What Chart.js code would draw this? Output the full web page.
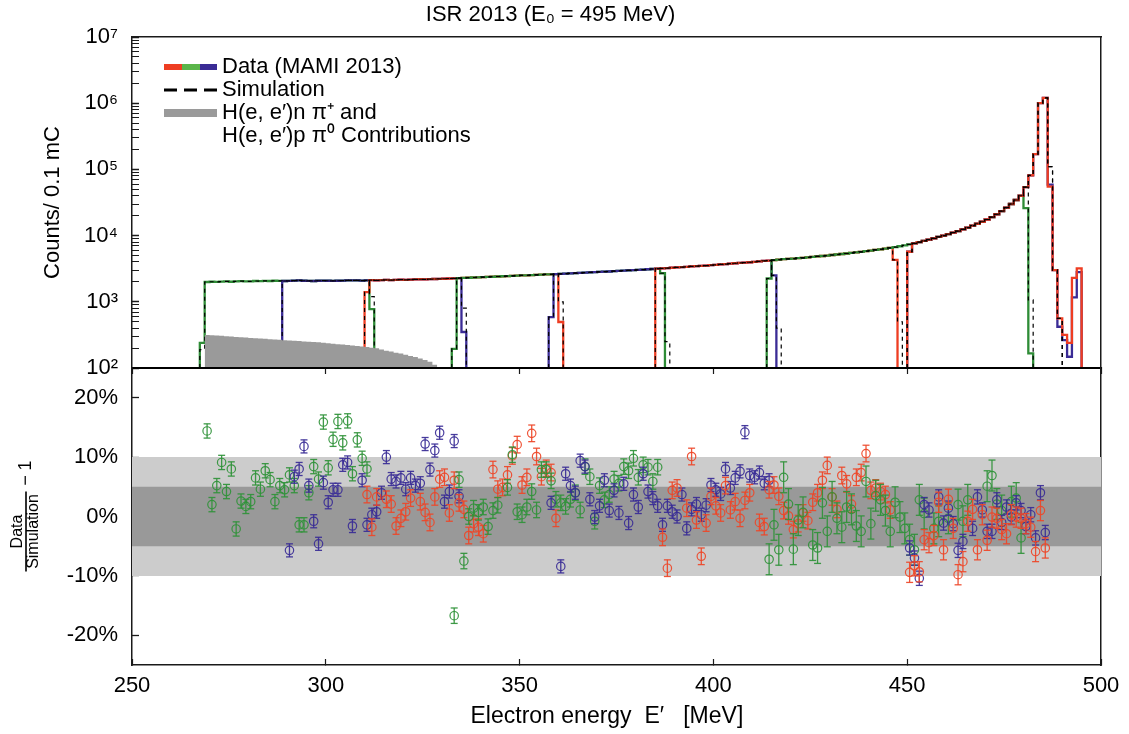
<!DOCTYPE html>
<html>
<head>
<meta charset="utf-8">
<title>ISR 2013</title>
<script src="https://cdn.jsdelivr.net/npm/chart.js@4.4.1/dist/chart.umd.min.js"></script>
<style>
  html, body { margin: 0; padding: 0; background: #ffffff; }
  #wrap { position: relative; width: 1129px; height: 734px; overflow: hidden; background: #fff; }
  canvas { position: absolute; left: 0; }
  #cTop { top: 0; }
  #cBot { top: 350px; }
</style>
</head>
<body>
<div id="wrap">
  <canvas id="cTop" width="1129" height="392"></canvas>
  <canvas id="cBot" width="1129" height="384"></canvas>
</div>
<script>
const FONT = '"Liberation Sans", Arial, Helvetica, sans-serif';
Chart.defaults.font.family = FONT;
Chart.defaults.color = '#000';

// ---------- axes / binning ----------
const E_MIN = 250, E_MAX = 500, BIN_WIDTH = 1.25;
const X_TICKS = [250, 300, 350, 400, 450, 500];
const COUNT_MIN = 1e2, COUNT_MAX = 1e7;
const LOG_TICKS = [1e2, 1e3, 1e4, 1e5, 1e6, 1e7];
const LOG_TICK_LABELS = ['10²', '10³', '10⁴', '10⁵', '10⁶', '10⁷'];
const LOG_MINOR = [2, 3, 4, 5, 6, 7, 8, 9];
const RATIO_MIN = -25, RATIO_MAX = 25;
const RATIO_TICKS = [-20, -10, 0, 10, 20];
const RATIO_TICK_LABELS = ['-20%', '-10%', '0%', '10%', '20%'];
const BAND_OUTER = [-10, 10];
const BAND_INNER = [-5, 5];

// ---------- spectrum (counts per 1.25 MeV bin, bins 15..185) ----------
const SPEC_FIRST_BIN = 15;
const spectrumCounts = [
  1990, 2010, 2000, 2020, 2030, 2010, 2040, 2050, 2030, 2040, 2060, 2050, 2070, 2060, 2080, 2070, 2060, 2070, 2090, 2100, 2080, 2070, 2060, 2080, 2090,
  2080, 2070, 2080, 2090, 2100, 2110, 2100, 2090, 2110, 2120, 2110, 2130, 2140, 2130, 2150, 2160, 2150, 2170, 2180, 2190, 2180, 2200, 2210, 2220, 2230, 2250,
  2260, 2280, 2300, 2310, 2330, 2340, 2360, 2380, 2390, 2410,
  2430, 2450, 2460, 2480, 2500, 2510, 2530, 2550, 2570, 2590,
  2600, 2620, 2640, 2660, 2690, 2710, 2730, 2760, 2780, 2800,
  2830, 2850, 2870, 2900, 2930, 2950, 2980, 3010, 3040, 3070,
  3100, 3130, 3160, 3200, 3230, 3270, 3300, 3340, 3380, 3420,
  3450, 3490, 3530, 3580, 3620, 3670, 3720, 3770, 3820, 3880,
  3900, 3960, 4020, 4080, 4140, 4200, 4270, 4340, 4400, 4450,
  4500, 4560, 4620, 4690, 4760, 4840, 4920, 5000, 5090, 5180,
  5270, 5370, 5470, 5580, 5690, 5810, 5940, 6070, 6210, 6360,
  6520, 6700, 6900, 7120, 7370, 7650, 7960, 8300, 8680, 9100,
  9550, 10000, 10500, 11100, 11700, 12400, 13200, 14100, 15100, 16200,
  17500, 19000, 21000, 23500, 26500, 30000, 34500, 40000, 54000, 81000
];
// elastic peak region, bins 186..195
const tailRed  = [170000, 1000000, 1200000, 55000, 3000, 560, 316, 240, 2300, 3200];
const tailBlue = [170000, 1000000, 1200000, 59000, 3000, 420, 263, 148, 1170, 2800];
const tailSim  = [170000, 1000000, 1200000, 110000, 3000, 560];

// pion-production contribution, bins 15..62
const PION_FIRST_BIN = 15;
const pionCounts = [315, 312, 309, 306, 303, 298, 295, 292, 289, 285, 282, 279, 276, 272, 269, 266, 263, 260, 258, 255,
  252, 250, 248, 244, 240, 236, 233, 229, 226, 223, 219, 215, 211, 207, 203, 198, 190, 183, 177, 170,
  165, 158, 152, 146, 139, 132, 124, 112];

// ---------- spectrometer settings ----------
const settingColor    = ['green', 'blue', 'red', 'green', 'blue', 'red', 'green', 'blue', 'red'];
const settingFirstBin = [14, 31, 48, 66, 86, 108, 131, 160, 160];
const settingLastBin  = [49, 68, 88, 109, 132, 157, 185, 195, 195];
const dataEdgeLow  = [[240], [], [1400], [195], [585], [], [2250], [5700], [5700]];
const dataEdgeHigh = [[776], [350], [495], [2700], [2500], [4300], [26000, 166], tailBlue, tailRed];
const simLastBin   = [49, 68, 88, 110, 133, 158, 185, 191, 191];
const simEdgeLow   = [[190], [], [1400], [195], [585], [], [2250], [5700], [5700]];
const simEdgeHigh  = [[1200], [800], [1000], [2700, 250], [2500, 400], [4300, 500], [1070], tailSim, tailSim];

// ---------- ratio Data/Simulation - 1 (percent), per setting ----------
const ratioFirstBin = [15, 32, 48, 66, 86, 109, 131, 160, 160];
const ratioG1 = [14.4, 2.0, 5.2, 9.1, 4.2, 8.0, -2.1, 2.6, 1.7, 2.5, 6.5, 4.6, 7.7, 6.2, 2.5, 5.2, 4.5, 7.0, 5.2, -1.4,
  -1.4, 4.0, 8.4, 6.3, 15.9, 8.2, 13.0, 16.0, 12.4, 16.1, 7.2, 12.9, 9.8, 8.0];
const ratioB1 = [-5.7, 6.7, 8.0, 11.8, 5.2, -0.8, -4.6, 5.7, 2.4, 4.5, 4.5, 8.7, 9.1, -1.6, null, 6.1, -1.4, 0.3, 0.8, 4.0,
  10.0, 6.3, 5.9, 6.5, 4.6, 6.5, 5.2, 5.6, 12.2, 7.9, 11.1, 14.1, 2.5, 4.2, 12.7, 3.4];
const ratioR1 = [3.7, -1.8, 3.3, null, 2.9, 2.1, -1.6, -0.3, 0.8, 3.1, null, 2.5, 0.7, -1.0, 3.3, 6.3, 6.6, 0.6, 6.1, 2.3,
  1.2, -3.2, -1.2, -1.8, -2.9, null, 7.9, 4.6, 4.9, 7.0, 10.2, 12.1, 5.3, 6.6, 14.0, 10.1, 6.7, 8.1, 7.4, -0.3];
const ratioG2 = [-16.7, 6.2, -7.5, 0.0, 1.4, 0.7, 1.6, -1.7, 1.0, 1.9, null, 4.9, 10.4, 0.8, 0.3, 1.6, 4.2, 1.1, 7.9, 7.9,
  6.0, 2.9, 2.3, 1.7, 2.9, 4.0, 1.1, 8.4, 6.7, -0.8, 5.2, 2.8, 3.7, 6.3, 5.6, 8.4, 7.7, 9.8, 6.6, 8.7, 8.3, 5.9, 8.3];
const ratioB2 = [2.3, null, -8.4, 7.2, 5.2, 4.0, 9.4, 8.4, 2.9, -0.1, 1.8, 6.1, 1.0, 4.4, 0.6, 5.5, -1.1, 3.7, 1.6, 7.2,
  4.2, 3.1, 1.8, -1.4, 1.8, 0.8, 0.0, 3.7, -2.0, 1.2, 2.1, 0.3, 1.9, 5.3, 4.5, 3.8, 8.0, 4.8, 6.5, 7.6,
  14.2, 6.9, 6.6, 7.4, 5.6, 6.1];
const ratioR2 = [-3.5, -8.7, 4.4, 4.8, null, 1.4, 10.1, -0.6, -6.7, -1.1, 3.4, 1.8, 0.6, 5.2, 1.1, 2.5, -0.3, 2.7, 4.0, null,
  -1.0, -1.7, 4.5, 5.3, 3.4, 1.0, 0.1, -2.2, -1.2, 0.6, -0.7, 2.4, 4.0, 6.1, 8.6, 3.3, 1.2, 6.9, 5.5, 2.1,
  6.6, 7.4, 10.6, 4.4, 4.8, 4.2, 3.7, 1.1];
const ratioG3 = [-7.2, -1.4, -5.6, 6.6, 2.1, -5.5, -0.6, 0.7, null, -4.8, -5.3, 2.3, -2.5, 3.3, -0.3, -1.8, 1.6, 1.2, -1.6, -2.5,
  5.9, -1.2, 3.5, 2.8, 1.0, -2.5, 2.4, -0.1, -2.0, -3.9, -5.6, 2.8, 0.5, null, -2.0, -0.8, null, -0.3, null, 2.0,
  -0.8, 2.8, null, null, null, 5.1, 6.9, 2.1, 1.0, null, 2.5, 3.1, -3.6];
const ratioB3 = [-5.3, -7.0, -10.4, 2.0, 1.1, null, 3.3, -1.1, 1.4, -1.2, -5.7, -4.2, null, -2.0, 3.3, 1.1, -2.5, -2.5, 2.8, -1.0,
  1.6, -0.1, 2.3, 1.0, -1.7, 0.3, -3.6, 4.0, -2.7];
const ratioR3 = [-9.4, -8.3, -9.3, -3.9, -4.4, -3.2, 2.4, -5.6, 2.9, -2.0, -9.8, -7.6, -0.8, 1.2, -5.6, 0.3, -4.0, -0.1, -0.3, -2.2,
  -2.9, 0.3, -0.1, -0.3, -1.2, -1.8, -5.9, 1.0, -5.3];
const ratioSeries = [ratioG1, ratioB1, ratioR1, ratioG2, ratioB2, ratioR2, ratioG3, ratioB3, ratioR3];
const ratioErr = [1.2, 1.1, 1.4, 1.3, 1.1, 1.4, 2.6, 1.2, 1.7];

// ---------- styling ----------
const LINE_COLORS  = { red: '#ee3d22', green: '#2e8c36', blue: '#3a2b95' };
const POINT_COLORS = { red: 'rgba(238,70,40,0.92)', green: 'rgba(48,146,58,0.92)', blue: 'rgba(58,44,150,0.92)' };
const LEGEND_TEXT = ['Data (MAMI 2013)', 'Simulation', ['H(e, e′)n π⁺ and', 'H(e, e′)p π⁰ Contributions']];

// ---------- helpers ----------
const binEdge = b => E_MIN + b * BIN_WIDTH;
const binCenter = b => E_MIN + (b + 0.5) * BIN_WIDTH;

function histCounts(first, last, lo, hi) {
  const out = [];
  for (let b = first; b <= last; b++) {
    const i = b - first, j = last - b;
    if (i < lo.length) out.push(lo[i]);
    else if (j < hi.length) out.push(hi[hi.length - 1 - j]);
    else out.push(spectrumCounts[b - SPEC_FIRST_BIN]);
  }
  return out;
}
function histPoints(first, counts) {
  const pts = [{ x: binEdge(first), y: COUNT_MIN }];
  counts.forEach((c, i) => pts.push({ x: binEdge(first + i), y: c }));
  const end = binEdge(first + counts.length);
  pts.push({ x: end, y: counts[counts.length - 1] });
  pts.push({ x: end, y: COUNT_MIN });
  return pts;
}
function symbolCanvas(draw) {
  const c = document.createElement('canvas');
  c.width = 90; c.height = 8;
  draw(c.getContext('2d'));
  return c;
}
const legendSymbols = [
  symbolCanvas(g => {
    g.fillStyle = LINE_COLORS.red;   g.fillRect(37, 1, 18, 6);
    g.fillStyle = '#5ab54a';         g.fillRect(55, 1, 18, 6);
    g.fillStyle = LINE_COLORS.blue;  g.fillRect(73, 1, 17, 6);
  }),
  symbolCanvas(g => {
    g.strokeStyle = '#000'; g.lineWidth = 3; g.setLineDash([13, 7]);
    g.beginPath(); g.moveTo(37, 4); g.lineTo(90, 4); g.stroke();
  }),
  symbolCanvas(g => { g.fillStyle = '#9a9a9a'; g.fillRect(37, 0, 53, 8); })
];
// axes must not reserve room for overhanging labels: the frame is fixed by layout padding
function fixBox(w, h) {
  return s => {
    if (w !== null) s.width = w;
    if (h !== null) s.height = h;
    s.paddingTop = 0; s.paddingBottom = 0; s.paddingLeft = 0; s.paddingRight = 0;
  };
}

// ---------- top panel datasets ----------
const topDatasets = [];
settingColor.forEach((col, s) => {
  const counts = histCounts(settingFirstBin[s], settingLastBin[s], dataEdgeLow[s], dataEdgeHigh[s]);
  topDatasets.push({
    data: histPoints(settingFirstBin[s], counts), borderColor: LINE_COLORS[col], borderWidth: 2.3,
    stepped: true, pointRadius: 0, fill: false, order: 20 - s
  });
});
settingColor.forEach((col, s) => {
  const counts = histCounts(settingFirstBin[s], simLastBin[s], simEdgeLow[s], simEdgeHigh[s]);
  topDatasets.push({
    data: histPoints(settingFirstBin[s], counts), borderColor: '#000', borderWidth: 1.2, borderDash: [4, 4],
    stepped: true, pointRadius: 0, fill: false, order: 2
  });
});
topDatasets.push({
  data: histPoints(PION_FIRST_BIN, pionCounts), borderColor: '#9a9a9a', borderWidth: 0,
  backgroundColor: '#9a9a9a', stepped: true, pointRadius: 0, fill: 'start', order: 0
});

const frameBorder = { display: true, color: '#1a1a1a', width: 1.5 };
const logTickValues = [];
LOG_TICKS.forEach((v, k) => {
  logTickValues.push(v);
  if (k < LOG_TICKS.length - 1) LOG_MINOR.forEach(m => logTickValues.push(v * m));
});

new Chart(document.getElementById('cTop'), {
  type: 'line',
  data: { datasets: topDatasets },
  options: {
    responsive: false, animation: false, devicePixelRatio: 1, events: [],
    layout: { padding: { left: 0, right: 28, top: 0, bottom: 24 } },
    plugins: {
      tooltip: { enabled: false },
      title: {
        display: true, text: 'ISR 2013 (E₀ = 495 MeV)', color: '#000',
        font: { size: 22, weight: 'normal' }, padding: { top: 2, bottom: 8.6 }
      },
      legend: {
        display: true, position: 'chartArea', align: 'start',
        title: { display: true, text: '', font: { size: 10, lineHeight: 1 }, padding: { top: 0, bottom: 45 } },
        labels: {
          usePointStyle: true, pointStyleWidth: 78, padding: 1, color: '#000',
          font: { size: 22, lineHeight: 1.05 },
          generateLabels: () => LEGEND_TEXT.map((t, i) => ({
            text: t, pointStyle: legendSymbols[i], fillStyle: 'rgba(0,0,0,0)',
            strokeStyle: 'rgba(0,0,0,0)', lineWidth: 0, hidden: false, fontColor: '#000', datasetIndex: i
          }))
        }
      }
    },
    scales: {
      x: {
        type: 'linear', min: E_MIN, max: E_MAX, position: 'bottom',
        ticks: { display: false }, grid: { display: false },
        border: { display: true, color: '#000', width: 2 },
        afterFit: fixBox(null, 0)
      },
      xTop: {
        type: 'linear', min: E_MIN, max: E_MAX, position: 'top',
        ticks: { display: false }, grid: { display: false }, border: frameBorder,
        afterFit: fixBox(null, 0)
      },
      y: {
        type: 'logarithmic', min: COUNT_MIN, max: COUNT_MAX, position: 'left',
        afterBuildTicks: s => { s.ticks = logTickValues.map(v => ({ value: v })); },
        ticks: {
          callback: v => { const i = LOG_TICKS.indexOf(v); return i >= 0 ? LOG_TICK_LABELS[i] : ''; },
          font: { size: 22 }, padding: 21, color: '#000', autoSkip: false
        },
        grid: {
          display: true, drawOnChartArea: false, drawTicks: true, tickLength: -7, tickColor: '#1a1a1a',
          tickWidth: c => (c.tick && LOG_TICKS.includes(c.tick.value)) ? 1.5 : 1
        },
        border: frameBorder,
        title: { display: true, text: 'Counts/ 0.1 mC', color: '#000', font: { size: 22 }, padding: { top: 40, bottom: 0 } },
        afterFit: fixBox(132, null)
      },
      yRight: {
        type: 'linear', position: 'right', ticks: { display: false }, grid: { display: false },
        border: frameBorder, afterFit: fixBox(0, null)
      }
    }
  }
});

// ---------- bottom panel datasets ----------
const botDatasets = [
  { data: [{ x: E_MIN, y: BAND_OUTER[1] }, { x: E_MAX, y: BAND_OUTER[1] }], fill: { value: BAND_OUTER[0] },
    backgroundColor: '#cccccc', borderWidth: 0, pointRadius: 0, order: 20 },
  { data: [{ x: E_MIN, y: BAND_INNER[1] }, { x: E_MAX, y: BAND_INNER[1] }], fill: { value: BAND_INNER[0] },
    backgroundColor: '#999999', borderWidth: 0, pointRadius: 0, order: 19 }
];
settingColor.forEach((col, s) => {
  const pts = [], bars = [];
  ratioSeries[s].forEach((r, i) => {
    if (r === null) return;
    const e = binCenter(ratioFirstBin[s] + i);
    pts.push({ x: e, y: r });
    bars.push({ x: e, y: r - ratioErr[s] }, { x: e, y: r + ratioErr[s] }, { x: e, y: null });
  });
  botDatasets.push({
    data: bars, borderColor: POINT_COLORS[col], borderWidth: 1.3, spanGaps: false,
    pointStyle: 'line', pointRadius: 3.5, pointBorderColor: POINT_COLORS[col], pointBorderWidth: 1.3,
    fill: false, order: 10 - s
  });
  botDatasets.push({
    data: pts, showLine: false, pointStyle: 'circle', pointRadius: 4.2,
    pointBorderColor: POINT_COLORS[col], pointBackgroundColor: 'rgba(0,0,0,0)', pointBorderWidth: 1.2,
    fill: false, order: 10 - s
  });
});

const fractionLabel = {
  id: 'fractionLabel',
  afterDraw(chart) {
    const { ctx, chartArea } = chart;
    const cy = (chartArea.top + chartArea.bottom) / 2 + 15;
    ctx.save();
    ctx.translate(26, cy);
    ctx.rotate(-Math.PI / 2);
    ctx.fillStyle = '#000';
    ctx.textAlign = 'center';
    ctx.textBaseline = 'middle';
    ctx.font = '16px ' + FONT;
    ctx.fillText('Data', 0, -8);
    ctx.fillText('Simulation', 0, 8);
    ctx.fillRect(-40, -0.8, 80, 1.6);
    ctx.font = '18px ' + FONT;
    ctx.fillText('−', 51, 0);
    ctx.fillText('1', 66, 0);
    ctx.restore();
  }
};

new Chart(document.getElementById('cBot'), {
  type: 'line',
  data: { datasets: botDatasets },
  plugins: [fractionLabel],
  options: {
    responsive: false, animation: false, devicePixelRatio: 1, events: [],
    layout: { padding: { left: 0, right: 28, top: 18, bottom: 0 } },
    plugins: { legend: { display: false }, tooltip: { enabled: false }, title: { display: false } },
    scales: {
      x: {
        type: 'linear', min: E_MIN, max: E_MAX, position: 'bottom',
        afterBuildTicks: s => { s.ticks = X_TICKS.map(v => ({ value: v })); },
        ticks: { font: { size: 22 }, padding: 14, maxRotation: 0, autoSkip: false, color: '#000' },
        grid: { display: true, drawOnChartArea: false, drawTicks: true, tickLength: -6, tickColor: '#1a1a1a', tickWidth: 1.2 },
        border: frameBorder,
        title: { display: true, text: 'Electron energy  E′   [MeV]   ', color: '#000', font: { size: 23 }, padding: { top: 0, bottom: 4 } },
        afterFit: fixBox(null, 69)
      },
      xTop: {
        type: 'linear', min: E_MIN, max: E_MAX, position: 'top',
        afterBuildTicks: s => { s.ticks = X_TICKS.map(v => ({ value: v })); },
        ticks: { display: false },
        grid: { display: true, drawOnChartArea: false, drawTicks: true, tickLength: -6, tickColor: '#1a1a1a', tickWidth: 1.2 },
        border: { display: true, color: '#000', width: 2 },
        afterFit: fixBox(null, 0)
      },
      y: {
        type: 'linear', min: RATIO_MIN, max: RATIO_MAX, position: 'left',
        afterBuildTicks: s => { s.ticks = RATIO_TICKS.map(v => ({ value: v })); },
        ticks: {
          callback: v => RATIO_TICK_LABELS[RATIO_TICKS.indexOf(v)],
          font: { size: 22 }, padding: 21, color: '#000', autoSkip: false
        },
        grid: { display: true, drawOnChartArea: false, drawTicks: true, tickLength: -7, tickColor: '#1a1a1a', tickWidth: 1.3 },
        border: frameBorder,
        afterFit: fixBox(132, null)
      },
      yRight: {
        type: 'linear', position: 'right', ticks: { display: false }, grid: { display: false },
        border: frameBorder, afterFit: fixBox(0, null)
      }
    }
  }
});
</script>
</body>
</html>
